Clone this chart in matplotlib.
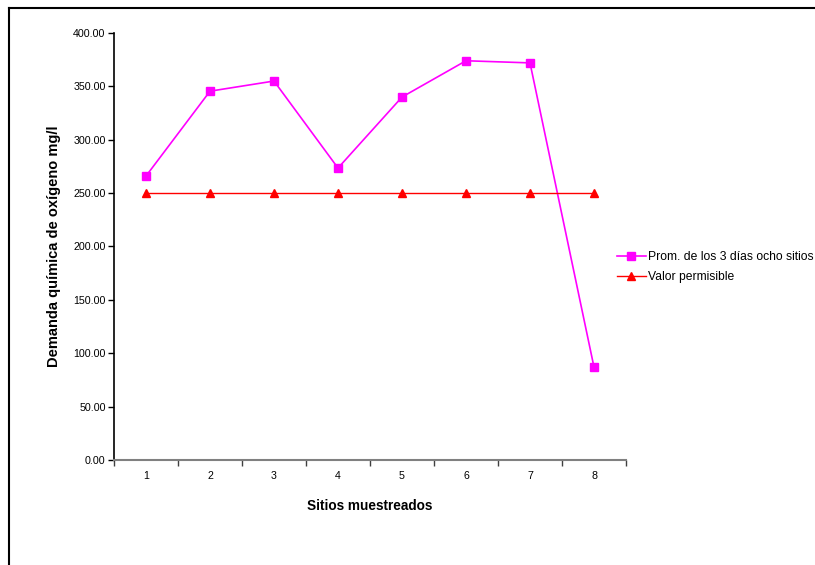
import matplotlib.pyplot as plt
from matplotlib.lines import Line2D

plt.rcParams['font.family'] = ['Liberation Sans', 'DejaVu Sans']

# Sampled sites and measured COD values
sitios = [1, 2, 3, 4, 5, 6, 7, 8]
promedio = [266, 345.5, 355, 273.5, 340, 374, 372, 87]
permisible = [250, 250, 250, 250, 250, 250, 250, 250]
y_ticks = [0, 50, 100, 150, 200, 250, 300, 350, 400]

fig = plt.figure(figsize=(8.15, 5.65), dpi=100)
ax = fig.add_axes([114 / 815, 105 / 565, 512 / 815, 427 / 565])

ax.plot(sitios, promedio, color="#ff00ff", linewidth=1.2, marker="s",
        markersize=5.5, label="Prom. de los 3 días ocho sitios")
ax.plot(sitios, permisible, color="#ff0000", linewidth=1.0, marker="^",
        markersize=6, label="Valor permisible")

ax.set_xlim(0.5, 8.5)
ax.set_ylim(0, 400)
ax.set_yticks(y_ticks)
ax.set_yticklabels(["%.2f" % v for v in y_ticks])
ax.set_xticks(sitios)
ax.set_xticklabels([str(s) for s in sitios])
ax.set_xticks([s + 0.5 for s in range(0, 9)], minor=True)

ax.tick_params(axis="y", direction="out", length=4, width=1, labelsize=7.7, pad=2)
ax.tick_params(axis="x", which="major", length=0, labelsize=7.7, pad=8)
ax.tick_params(axis="x", which="minor", direction="out", length=4, width=1, color="#404040")

for side in ["top", "right"]:
    ax.spines[side].set_visible(False)
ax.spines["left"].set_linewidth(1.2)
ax.spines["bottom"].set_color("#808080")
ax.spines["bottom"].set_linewidth(1.5)

ax.set_ylabel("Demanda química de oxígeno mg/l", fontsize=10.5, fontweight="bold", labelpad=9)
ax.set_xlabel("Sitios muestreados", fontsize=9.8, fontweight="bold", labelpad=13)

fig.legend(loc="center left", bbox_to_anchor=(606 / 815, 1 - 267 / 565), frameon=False,
           fontsize=8.7, handlelength=2.4, handletextpad=0.2, labelspacing=0.65)

# outer chart border (left and top edges)
fig.add_artist(Line2D([9 / 815, 9 / 815], [0, 1 - 8 / 565], transform=fig.transFigure,
                      color="black", linewidth=1.5))
fig.add_artist(Line2D([9 / 815, 1], [1 - 8 / 565, 1 - 8 / 565], transform=fig.transFigure,
                      color="black", linewidth=1.5))

fig.savefig("out.png", dpi=100)
